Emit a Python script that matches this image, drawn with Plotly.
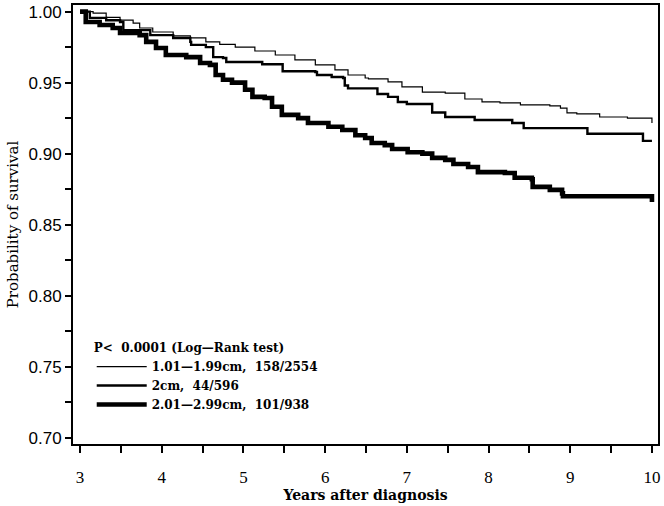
import plotly.graph_objects as go

# ---- data ----
group_names = ["1.01\u20141.99cm,  158/2554", "2cm,  44/596", "2.01\u20142.99cm,  101/938"]

t_small = [3.00, 3.16, 3.32, 3.49, 3.65, 3.73, 3.89, 4.14, 4.35, 4.54, 4.71, 4.90, 5.14, 5.39,
           5.63, 5.88, 6.12, 6.28, 6.49, 6.53, 6.77, 6.94, 7.19, 7.47, 7.71, 7.92, 8.14, 8.39,
           8.75, 8.88, 8.96, 9.08, 9.36, 9.70, 10.00, 10.00]
s_small = [1.000, 0.999, 0.996, 0.994, 0.992, 0.9885, 0.9857, 0.983, 0.9815, 0.9787, 0.977, 0.975,
           0.9723, 0.9695, 0.966, 0.9625, 0.959, 0.9554, 0.9533, 0.9526, 0.9505, 0.947, 0.9434,
           0.9427, 0.9385, 0.9364, 0.9357, 0.9343, 0.9336, 0.932, 0.9287, 0.928, 0.9258, 0.925,
           0.9244, 0.9216]

t_2cm = [3.00, 3.12, 3.32, 3.49, 3.53, 3.86, 4.14, 4.35, 4.36, 4.54, 4.63, 4.75, 4.79, 5.23,
         5.48, 5.88, 5.90, 6.08, 6.22, 6.24, 6.28, 6.64, 6.77, 6.89, 7.00, 7.31, 7.47, 7.83,
         8.29, 8.43, 9.21, 9.89, 10.00]
s_2cm = [1.000, 0.9956, 0.994, 0.9927, 0.987, 0.9835, 0.9815, 0.9787, 0.9766, 0.975, 0.968,
         0.9674, 0.9646, 0.963, 0.958, 0.9575, 0.9554, 0.954, 0.9533, 0.948, 0.946, 0.942,
         0.940, 0.9364, 0.935, 0.929, 0.9258, 0.9237, 0.9216, 0.918, 0.914, 0.909, 0.909]

t_large = [3.00, 3.07, 3.24, 3.40, 3.49, 3.73, 3.81, 3.93, 4.05, 4.30, 4.47, 4.59, 4.66, 4.75,
           4.86, 5.02, 5.11, 5.26, 5.35, 5.47, 5.67, 5.79, 6.04, 6.21, 6.37, 6.49, 6.57, 6.73,
           6.82, 7.01, 7.19, 7.31, 7.47, 7.57, 7.75, 7.87, 8.20, 8.32, 8.53, 8.54, 8.75, 8.90,
           8.91, 10.00, 10.00]
s_large = [1.000, 0.9927, 0.9906, 0.9885, 0.985, 0.9835, 0.9787, 0.9744, 0.9695, 0.968, 0.9639,
           0.9625, 0.9554, 0.952, 0.950, 0.945, 0.940, 0.9392, 0.933, 0.9273, 0.925, 0.9216,
           0.919, 0.9167, 0.913, 0.911, 0.9075, 0.906, 0.9033, 0.901, 0.900, 0.897, 0.8956,
           0.8927, 0.8906, 0.887, 0.8864, 0.883, 0.882, 0.8766, 0.8745, 0.872, 0.870, 0.870,
           0.866]

x_ticks = [3, 3.5, 4, 4.5, 5, 5.5, 6, 6.5, 7, 7.5, 8, 8.5, 9, 9.5, 10]
x_ticktext = ["3", "", "4", "", "5", "", "6", "", "7", "", "8", "", "9", "", "10"]
y_ticks = [0.70, 0.725, 0.75, 0.775, 0.80, 0.825, 0.85, 0.875, 0.90, 0.925, 0.95, 0.975, 1.00]
y_ticktext = ["0.70", "", "0.75", "", "0.80", "", "0.85", "", "0.90", "", "0.95", "", "1.00"]

legend_title = "P<  0.0001 (Log\u2014Rank test)"
x_title = "Years after diagnosis"
y_title = "Probability of survival"

# ---- figure ----
series = [(t_small, s_small, 1.2), (t_2cm, s_2cm, 2.4), (t_large, s_large, 4.6)]
fig = go.Figure()
for name, (t, s, w) in zip(group_names, series):
    fig.add_trace(go.Scatter(x=t, y=s, mode="lines", name=name,
                             line=dict(color="black", width=w, shape="hv")))

fig.update_layout(
    width=664, height=506,
    margin=dict(l=73, r=6, t=5, b=62, autoexpand=False),
    paper_bgcolor="white", plot_bgcolor="white",
    showlegend=True,
    legend=dict(
        x=0.032, y=0.245, xanchor="left", yanchor="top",
        bgcolor="rgba(0,0,0,0)",
        font=dict(family="DejaVu Serif", size=12, color="black", weight="bold"),
        title=dict(text=legend_title,
                   font=dict(family="DejaVu Serif", size=12, color="black", weight="bold")),
        itemwidth=50, tracegroupgap=0,
    ),
    xaxis=dict(
        range=[2.914, 10.074], tickmode="array", tickvals=x_ticks, ticktext=x_ticktext,
        ticks="outside", ticklen=7, tickwidth=1.5, tickcolor="black",
        showline=True, linecolor="black", linewidth=2, mirror=True,
        showgrid=False, zeroline=False, automargin=False,
        tickfont=dict(family="Liberation Serif", size=17, color="black"),
        ticklabelstandoff=10,
        title=dict(text=x_title, standoff=3,
                   font=dict(family="DejaVu Serif", size=14, color="black", weight="bold")),
    ),
    yaxis=dict(
        range=[0.6955, 1.0047], tickmode="array", tickvals=y_ticks, ticktext=y_ticktext,
        ticks="outside", ticklen=6, tickwidth=1.5, tickcolor="black",
        showline=True, linecolor="black", linewidth=2, mirror=True,
        showgrid=False, zeroline=False, automargin=False,
        tickfont=dict(family="Liberation Sans", size=17, color="black"),
        title=dict(text=y_title, standoff=6,
                   font=dict(family="DejaVu Serif", size=15, color="black")),
    ),
)

fig.write_html("out.html",
               config={"displayModeBar": False},
               post_script="document.body.style.margin='0px';document.body.style.overflow='hidden';")
